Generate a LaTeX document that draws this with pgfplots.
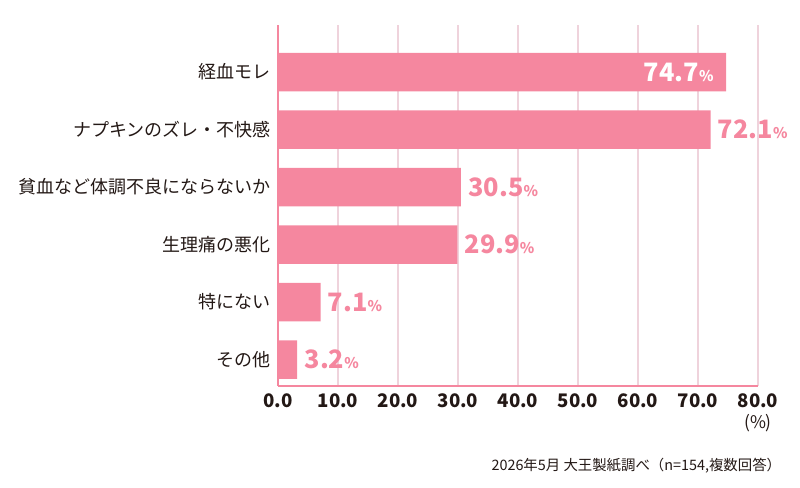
\documentclass[border=0pt]{standalone}
\usepackage{pgfplots}
\pgfplotsset{compat=1.18}
\usepackage{fontspec}
\setmainfont{Noto Sans CJK JP}
\definecolor{barpink}{HTML}{F5879F}
\definecolor{gridpink}{HTML}{EFD3DC}
\definecolor{txt}{HTML}{231815}
\begin{document}
\begin{tikzpicture}
\useasboundingbox (0,0) rectangle (600pt,365.25pt);
\begin{axis}[
  at={(208.5pt,75.75pt)}, anchor=south west,
  scale only axis, width=360pt, height=270.75pt,
  xmin=0, xmax=80, ymin=-0.82, ymax=5.46,
  y dir=reverse,
  axis x line=bottom, axis y line=left,
  axis line style={-, draw=barpink, line width=1.1pt},
  xtick={0,10,...,80},
  xmajorgrids, major grid style={draw=gridpink, line width=0.8pt},
  major tick length=0pt,
  xticklabel={\pgfmathprintnumber[assume math mode=true,fixed,fixed zerofill,precision=1]{\tick}},
  xticklabel style={font=\fontsize{14}{14}\selectfont\bfseries, text=txt, yshift=-2pt},
  ytick={0,1,2,3,4,5},
  yticklabels={経血モレ, ナプキンのズレ・不快感, 貧血など体調不良にならないか, 生理痛の悪化, 特にない, その他},
  yticklabel style={font=\fontsize{13.5}{13.5}\selectfont, text=txt, xshift=-2pt},
  clip=false,
]
\addplot[xbar, fill=barpink, draw=none, bar width=28.9pt] coordinates {(74.7,0) (72.1,1) (30.5,2) (29.9,3) (7.1,4) (3.2,5)};
\addplot[draw=none, mark=none, point meta=x,
  nodes near coords={\pgfmathprintnumber[assume math mode=true,fixed,fixed zerofill,precision=1]{\pgfplotspointmeta}{\fontsize{11}{11}\selectfont\%}},
  every node near coord/.append style={anchor=west, xshift=2pt, text=barpink, font=\fontsize{19}{19}\selectfont\bfseries}]
  coordinates {(72.1,1) (30.5,2) (29.9,3) (7.1,4) (3.2,5)};
\addplot[draw=none, mark=none, point meta=x,
  nodes near coords={\pgfmathprintnumber[assume math mode=true,fixed,fixed zerofill,precision=1]{\pgfplotspointmeta}{\fontsize{11}{11}\selectfont\%}},
  every node near coord/.append style={anchor=east, xshift=-6pt, text=white, font=\fontsize{19}{19}\selectfont\bfseries}]
  coordinates {(74.7,0)};
\end{axis}
\node[text=txt, font=\fontsize{13}{13}\selectfont] at (568.5pt,48pt) {(\%)};
\node[anchor=east, inner sep=0pt, text=txt, font=\fontsize{10.8}{10.8}\selectfont] at (586pt,15.75pt) {2026年5月 大王製紙調べ（n=154,複数回答）};
\end{tikzpicture}
\end{document}
